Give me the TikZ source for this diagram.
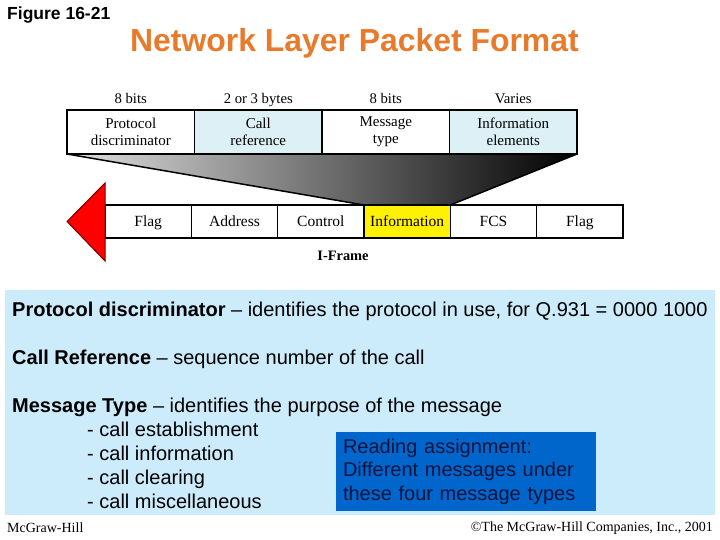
\documentclass[tikz,border=0pt]{standalone}
\usepackage{fontspec}
\setmainfont{Liberation Serif}
\newfontfamily\arialfont{Liberation Sans}
\usetikzlibrary{positioning,backgrounds}
\definecolor{titleorange}{RGB}{232,122,44}
\definecolor{cellblue}{RGB}{220,240,246}
\definecolor{panelblue}{RGB}{204,236,252}
\definecolor{noteblue}{RGB}{0,102,204}
\definecolor{notetext}{RGB}{10,20,60}
\begin{document}
\begin{tikzpicture}[x=1pt,y=-1pt,
  hdr/.style={anchor=base,inner sep=0pt,font=\fontsize{14.7}{16}\selectfont},
  topcell/.style={draw,line width=1.5pt,outer sep=0pt,minimum width=127.5pt,minimum height=44pt,inner sep=0pt,align=center,font=\fontsize{15}{17}\selectfont},
  framecell/.style={draw,line width=1.5pt,outer sep=0pt,minimum width=86.33pt,minimum height=33pt,inner sep=0pt,text height=12pt,text depth=2pt,font=\fontsize{15.5}{17}\selectfont},
  body/.style={anchor=base west,inner sep=0pt,font=\arialfont\fontsize{20}{23}\selectfont},
  foot/.style={inner sep=0pt,font=\fontsize{14}{16}\selectfont}]
\useasboundingbox (0,0) rectangle (720,540);

\node[anchor=west,inner sep=0pt,font=\arialfont\bfseries\fontsize{17.5}{20}\selectfont] (fig) at (7,15.5) {Figure 16-21};
\node[anchor=west,inner sep=0pt,text=titleorange,font=\arialfont\bfseries\fontsize{31.9}{36}\selectfont] (title) at (130,43) {Network Layer Packet Format};

% packet fields
\node[topcell] (pd) at (130.75,132) {Protocol\\discriminator};
\node[topcell,fill=cellblue,right=0pt of pd] (cr) {Call\\reference};
\node[topcell,right=0pt of cr] (mt) {Message\\type};
\node[topcell,fill=cellblue,right=0pt of mt] (ie) {Information\\elements};

\node[hdr] (w1) at ([yshift=6.5pt]pd.north) {8 bits};
\node[hdr] (w2) at ([yshift=6.5pt]cr.north) {2 or 3 bytes};
\node[hdr] (w3) at ([yshift=6.5pt]mt.north) {8 bits};
\node[hdr] (w4) at ([yshift=6.5pt]ie.north) {Varies};

% I-frame
\node[framecell] (f1) at (148.2,221.5) {Flag};
\node[framecell,right=0pt of f1] (addr) {Address};
\node[framecell,right=0pt of addr] (ctrl) {Control};
\node[framecell,fill=yellow,right=0pt of ctrl] (info) {Information};
\node[framecell,right=0pt of info] (fcs) {FCS};
\node[framecell,right=0pt of fcs] (f2) {Flag};
\node[inner sep=0pt,font=\bfseries\fontsize{14.4}{16}\selectfont] (iframe) at (343,256) {I-Frame};

\begin{scope}[on background layer]
\shade[left color=white!88!black,right color=black] (pd.south west) -- (ie.south east) -- (info.north east) -- (info.north west) -- cycle;
\end{scope}
\draw[line width=1.5pt] (pd.south west) -- (info.north west);
\draw[line width=1.5pt] (ie.south east) -- (info.north east);

\filldraw[fill=red,draw=red!45!black,line width=1pt] ([yshift=38.5pt]f1.west) -- ([yshift=-39.5pt]f1.west) -- ([xshift=-38pt]f1.west) -- cycle;

% description
\node[fill=panelblue,minimum width=710pt,minimum height=225pt,inner sep=0pt] (panel) at (360,402.5) {};
\node[body] (l1) at (12,316) {\textbf{Protocol discriminator} – identifies the protocol in use, for Q.931 = 0000 1000};
\node[body] (l2) at (12,364) {\textbf{Call Reference} – sequence number of the call};
\node[body] (l3) at (12,412) {\textbf{Message Type} – identifies the purpose of the message};
\node[body] (m1) at (87,436) {- call establishment};
\node[body] (m2) at (87,460) {- call information};
\node[body] (m3) at (87,484) {- call clearing};
\node[body] (m4) at (87,508) {- call miscellaneous};

\node[fill=noteblue,text=notetext,text width=246pt,inner xsep=7pt,inner ysep=0pt,minimum height=79pt,align=left,font=\arialfont\fontsize{20}{23.5}\selectfont] (note) at (466,471.5) {Reading assignment:\\Different messages under\\these four message types};

\node[foot,anchor=west] (pub) at (7,528) {McGraw-Hill};
\node[foot,anchor=east] (copy) at (713,528) {\textcopyright The McGraw-Hill Companies, Inc., 2001};
\end{tikzpicture}
\end{document}
